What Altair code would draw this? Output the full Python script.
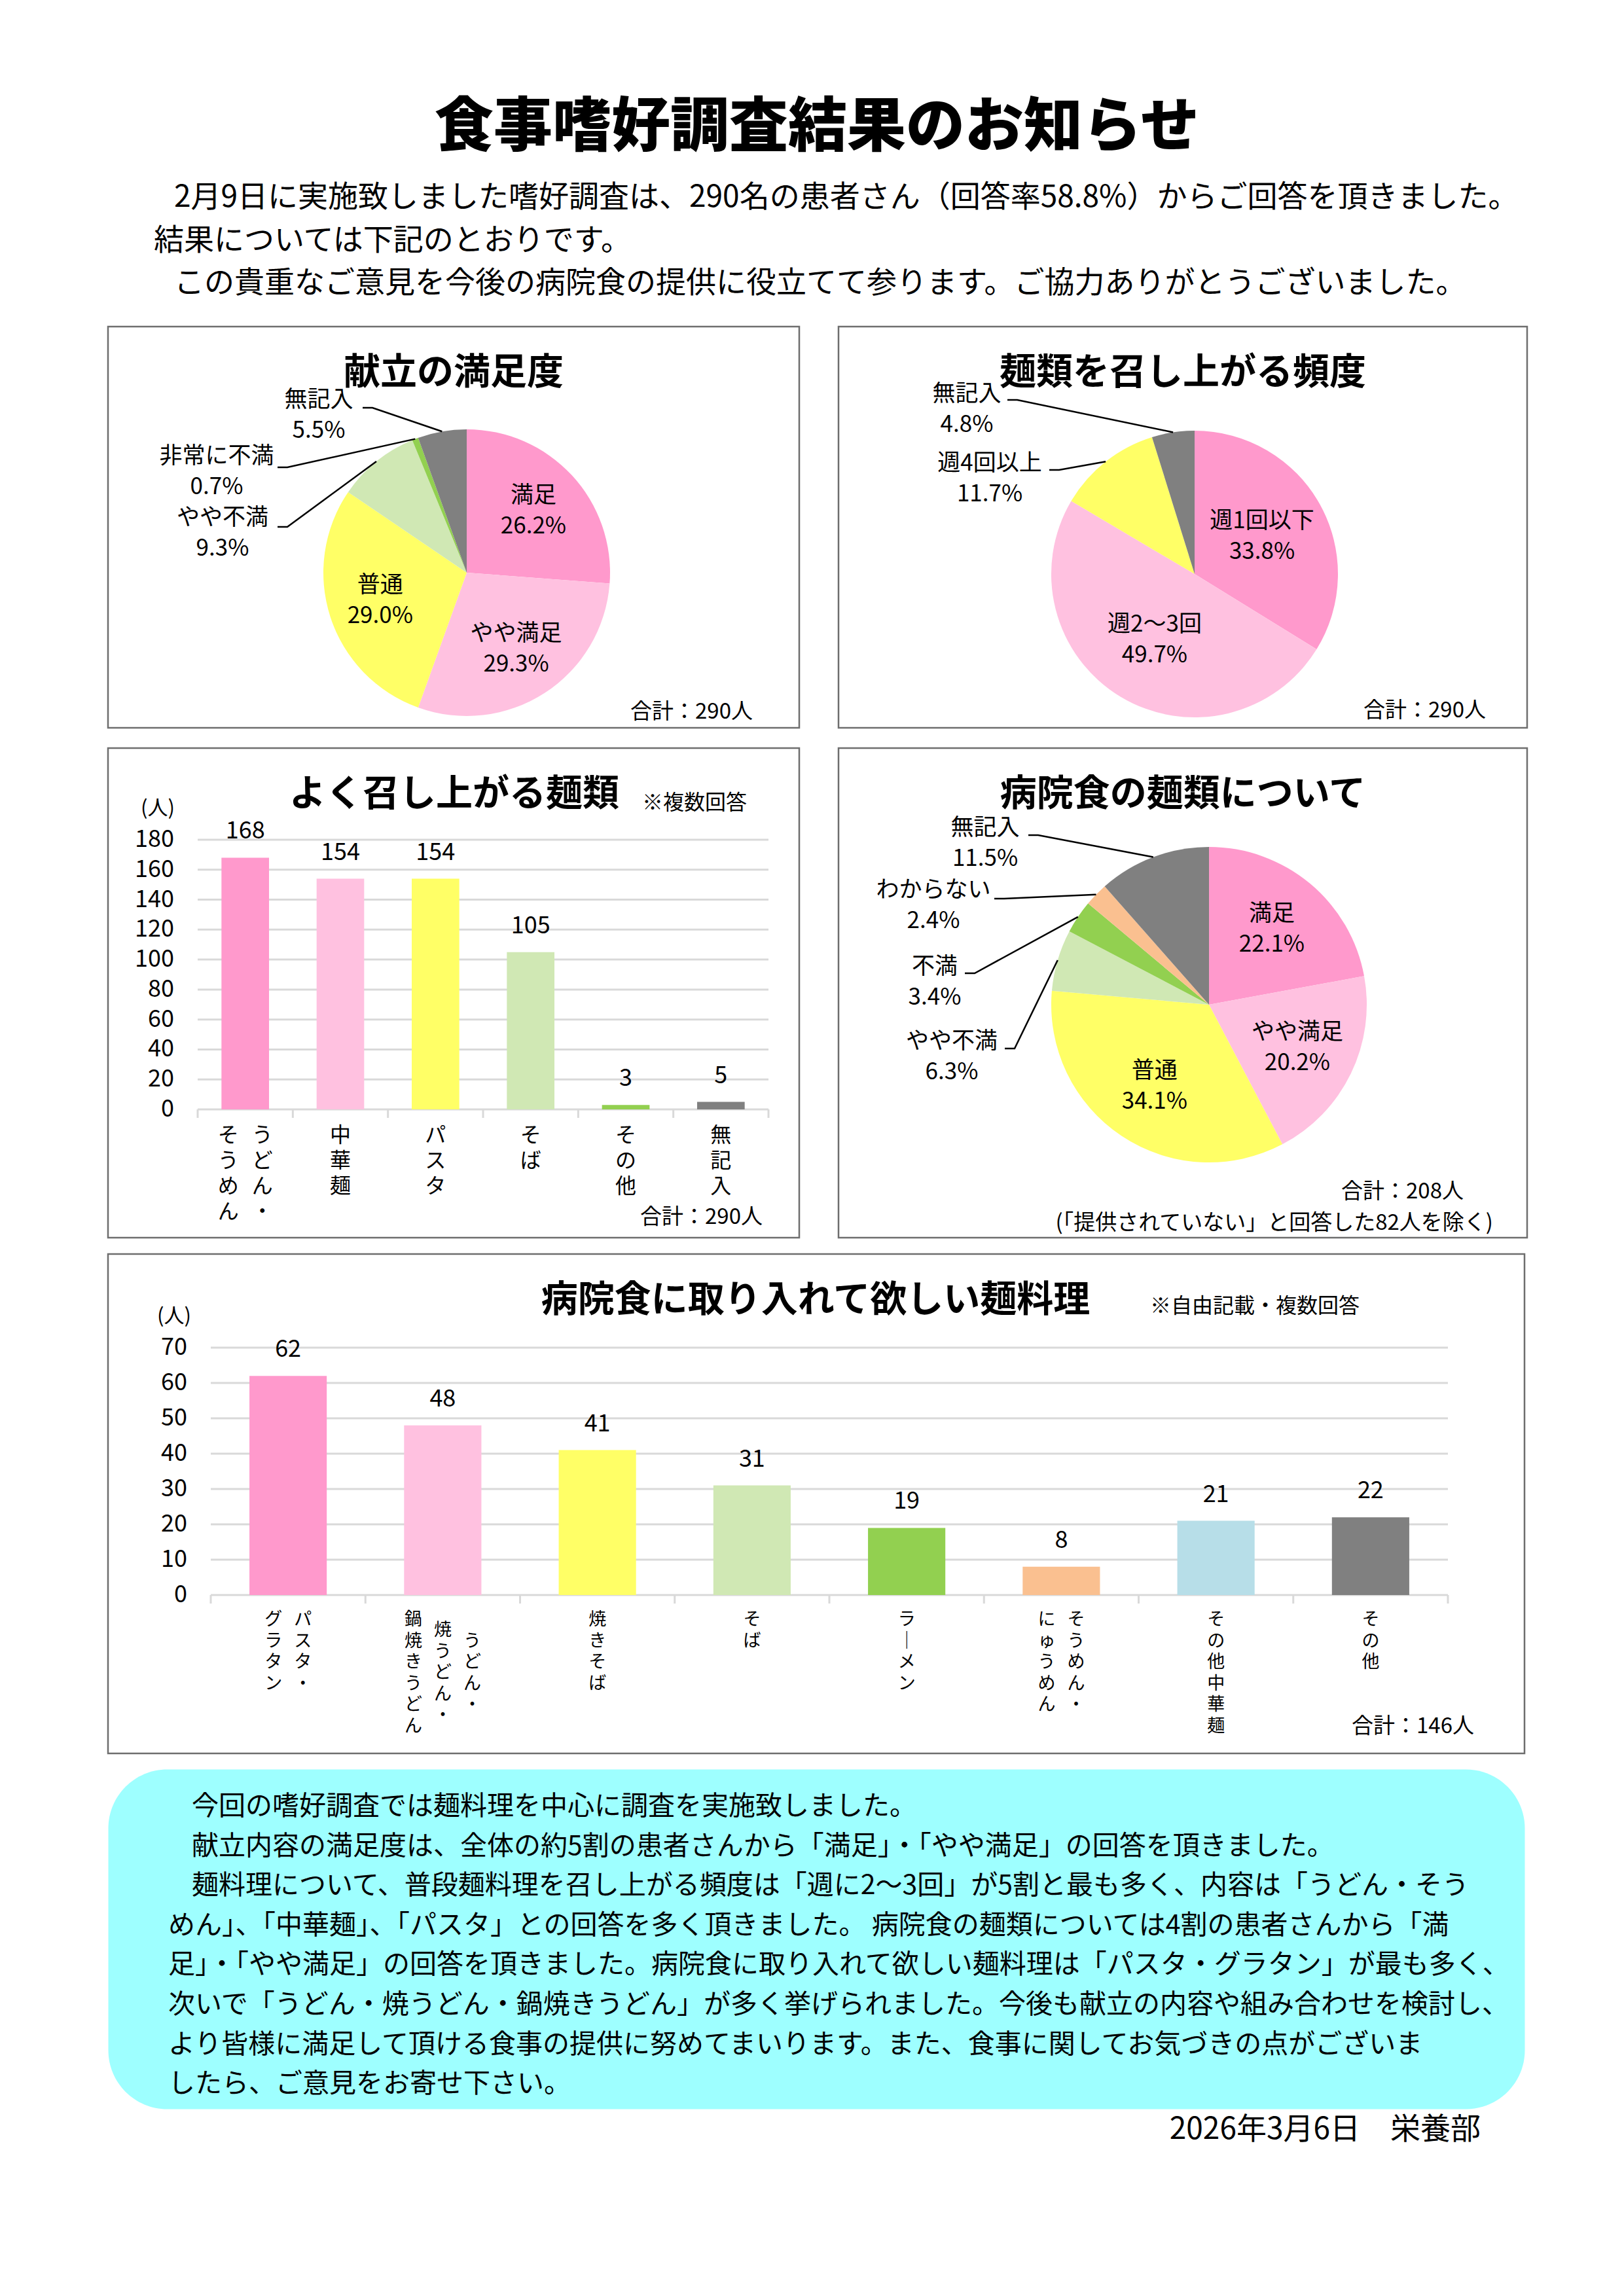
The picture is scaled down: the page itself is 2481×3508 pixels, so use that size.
import math
import altair as alt
import pandas as pd

FONT = "Noto Sans CJK JP"
BORDER = "#6E6E6E"
GRID = "#D9D9D9"

# ---------------- data ----------------
page_title = "食事嗜好調査結果のお知らせ"
intro_lines = [
    "　2月9日に実施致しました嗜好調査は、290名の患者さん（回答率58.8%）からご回答を頂きました。",
    "結果については下記のとおりです。",
    "　この貴重なご意見を今後の病院食の提供に役立てて参ります。ご協力ありがとうございました。",
]

pie1_title = "献立の満足度"
pie1_cats = ["満足", "やや満足", "普通", "やや不満", "非常に不満", "無記入"]
pie1_vals = [26.2, 29.3, 29.0, 9.3, 0.7, 5.5]
pie1_colors = ["#FF99CC", "#FFC1E0", "#FFFF66", "#D0E8B4", "#92D050", "#808080"]
pie1_note = "合計：290人"

pie2_title = "麺類を召し上がる頻度"
pie2_cats = ["週1回以下", "週2〜3回", "週4回以上", "無記入"]
pie2_vals = [33.8, 49.7, 11.7, 4.8]
pie2_colors = ["#FF99CC", "#FFC1E0", "#FFFF66", "#808080"]
pie2_note = "合計：290人"

bar1_title = "よく召し上がる麺類"
bar1_cats = ["うどん・そうめん", "中華麺", "パスタ", "そば", "その他", "無記入"]
bar1_vals = [168, 154, 154, 105, 3, 5]
bar1_colors = ["#FF99CC", "#FFC1E0", "#FFFF66", "#D0E8B4", "#92D050", "#808080"]
bar1_label_cols = [["うどん・", "そうめん"], ["中華麺"], ["パスタ"], ["そば"], ["その他"], ["無記入"]]
bar1_ticks = [0, 20, 40, 60, 80, 100, 120, 140, 160, 180]
bar1_sub = "※複数回答"
bar1_note = "合計：290人"

pie3_title = "病院食の麺類について"
pie3_cats = ["満足", "やや満足", "普通", "やや不満", "不満", "わからない", "無記入"]
pie3_vals = [22.1, 20.2, 34.1, 6.3, 3.4, 2.4, 11.5]
pie3_colors = ["#FF99CC", "#FFC1E0", "#FFFF66", "#D0E8B4", "#92D050", "#FAC090", "#808080"]
pie3_note = "合計：208人"
pie3_note2 = "(「提供されていない」と回答した82人を除く)"

bar2_title = "病院食に取り入れて欲しい麺料理"
bar2_cats = ["パスタ・グラタン", "うどん・焼うどん・鍋焼きうどん", "焼きそば", "そば",
             "ラーメン", "そうめん・にゅうめん", "その他中華麺", "その他"]
bar2_vals = [62, 48, 41, 31, 19, 8, 21, 22]
bar2_colors = ["#FF99CC", "#FFC1E0", "#FFFF66", "#D0E8B4", "#92D050", "#FAC090", "#B7DEE8", "#808080"]
bar2_label_cols = [["パスタ・", "グラタン"], ["うどん・", "焼うどん・", "鍋焼きうどん"], ["焼きそば"],
                   ["そば"], ["ラーメン"], ["そうめん・", "にゅうめん"], ["その他中華麺"], ["その他"]]
bar2_ticks = [0, 10, 20, 30, 40, 50, 60, 70]
bar2_sub = "※自由記載・複数回答"
bar2_note = "合計：146人"

unit_label = "(人)"

box_lines = [
    "　今回の嗜好調査では麺料理を中心に調査を実施致しました。",
    "　献立内容の満足度は、全体の約5割の患者さんから「満足」・「やや満足」の回答を頂きました。",
    "　麺料理について、普段麺料理を召し上がる頻度は「週に2〜3回」が5割と最も多く、内容は「うどん・そう",
    "めん」、「中華麺」、「パスタ」との回答を多く頂きました。 病院食の麺類については4割の患者さんから「満",
    "足」・「やや満足」の回答を頂きました。病院食に取り入れて欲しい麺料理は「パスタ・グラタン」が最も多く、",
    "次いで「うどん・焼うどん・鍋焼きうどん」が多く挙げられました。今後も献立の内容や組み合わせを検討し、",
    "より皆様に満足して頂ける食事の提供に努めてまいります。また、食事に関してお気づきの点がございま",
    "したら、ご意見をお寄せ下さい。",
]
footer_text = "2026年3月6日　栄養部"

# ---------------- helpers ----------------
VMAP = {"ー": "｜"}  # vertical-writing form of the long vowel mark
PIE_FS = 35
PIE_LH = 47
NUM_FS = 36


def note(text, x, y, size, align="center", weight="normal", baseline="middle", lh=None):
    kw = dict(font=FONT, fontSize=size, fontWeight=weight, align=align,
              baseline=baseline, color="black")
    if lh is not None:
        kw.update(lineBreak="\n", lineHeight=lh)
    return alt.Chart(pd.DataFrame({"t": [text]})).mark_text(**kw).encode(
        text="t:N", x=alt.value(x), y=alt.value(y))


def para(lines, x, y, size, lh, indent):
    """Paragraph lines; lines beginning with an ideographic space are indented."""
    out = []
    for i, s in enumerate(lines):
        ind = s.startswith("　")
        out.append(note(s.lstrip("　"), x + (indent if ind else 0), y + i * lh, size, align="left"))
    return out


def pie_panel(title, cats, vals, colors, W, H, cx, cy, r, r_in, inside, outside, notes):
    n = len(cats)
    total = sum(vals)
    df = pd.DataFrame({"cat": cats, "val": vals, "ord": list(range(n))})
    df["inlabel"] = [f"{c}\n{v:.1f}%" if c in inside else "" for c, v in zip(cats, vals)]
    theta = alt.Theta("val:Q", stack=True)
    cscale = alt.Scale(domain=cats, range=colors)
    arcs = alt.Chart(df).mark_arc(radius=r).encode(
        theta=theta,
        color=alt.Color("cat:N", scale=cscale, legend=None),
        order=alt.Order("ord:Q"),
        x=alt.value(cx), y=alt.value(cy))
    inner = alt.Chart(df).mark_text(
        radius=r_in, font=FONT, fontSize=PIE_FS, lineBreak="\n", lineHeight=PIE_LH,
        dy=-PIE_LH / 2, baseline="middle", align="center", color="black").encode(
        theta=theta, order=alt.Order("ord:Q"), detail="cat:N",
        text="inlabel:N", x=alt.value(cx), y=alt.value(cy))

    mids = {}
    cum = 0.0
    for c, v in zip(cats, vals):
        mids[c] = (cum + v / 2) / total * 2 * math.pi
        cum += v
    orows, lrows = [], []
    for c, (lx, ly, sx, sy) in outside.items():
        v = vals[cats.index(c)]
        orows.append({"label": f"{c}\n{v:.1f}%", "x": lx, "y": ly})
        a = mids[c]
        ex, ey = cx + r * math.sin(a), cy - r * math.cos(a)
        for k, (px, py) in enumerate([(sx, sy), (sx + 15, sy), (ex, ey)]):
            lrows.append({"cat": c, "k": k, "x": px, "y": py})
    outer = alt.Chart(pd.DataFrame(orows)).mark_text(
        font=FONT, fontSize=PIE_FS, lineBreak="\n", lineHeight=PIE_LH,
        baseline="middle", align="center", color="black").encode(
        x=alt.X("x:Q", scale=None, axis=None), y=alt.Y("y:Q", scale=None, axis=None),
        text="label:N")
    leaders = alt.Chart(pd.DataFrame(lrows)).mark_line(color="black", strokeWidth=2.5).encode(
        x=alt.X("x:Q", scale=None, axis=None), y=alt.Y("y:Q", scale=None, axis=None),
        detail="cat:N", order="k:Q")
    layers = [arcs, leaders, inner, outer, note(title, W / 2, 71, 56, weight="bold")]
    layers += notes
    return alt.layer(*layers).properties(
        width=W, height=H, view=alt.ViewBackground(stroke=BORDER, strokeWidth=2.5))


def bar_panel(title, title_x, cats, vals, colors, label_cols, ticks, W, H, xr, yr,
              col_sp, lab_top, lab_fs, lab_lh, notes):
    n = len(cats)
    df = pd.DataFrame({"cat": cats, "val": vals})
    xs = alt.Scale(domain=cats, range=list(xr), paddingInner=0.5, paddingOuter=0.25)
    ys = alt.Scale(domain=[ticks[0], ticks[-1]], range=list(yr), nice=False, zero=True)
    tdf = pd.DataFrame({"v": ticks})
    grid = alt.Chart(tdf).mark_rule(color=GRID, strokeWidth=3).encode(
        y=alt.Y("v:Q", scale=ys, axis=None),
        x=alt.value(xr[0]), x2=alt.value(xr[1]))
    ylabels = alt.Chart(tdf).mark_text(font=FONT, fontSize=NUM_FS, align="right",
                                       baseline="middle", color="black").encode(
        y=alt.Y("v:Q", scale=ys, axis=None), x=alt.value(xr[0] - 36), text="v:Q")
    # category boundary ticks below the baseline
    bdf = pd.DataFrame({"b": list(range(n + 1)), "z": [0] * (n + 1)})
    xticks = alt.Chart(bdf).mark_rule(color=GRID, strokeWidth=3).encode(
        x=alt.X("b:Q", scale=alt.Scale(domain=[0, n], range=list(xr)), axis=None),
        y=alt.Y("z:Q", scale=ys, axis=None), y2=alt.value(yr[0] + 13))
    bars = alt.Chart(df).mark_bar().encode(
        x=alt.X("cat:N", scale=xs, axis=None, sort=None),
        y=alt.Y("val:Q", scale=ys, axis=None),
        color=alt.Color("cat:N", scale=alt.Scale(domain=cats, range=colors), legend=None))
    vlab = alt.Chart(df).mark_text(font=FONT, fontSize=NUM_FS, dy=-40, baseline="middle",
                                   color="black").encode(
        x=alt.X("cat:N", scale=xs, axis=None, sort=None),
        y=alt.Y("val:Q", scale=ys, axis=None),
        text="val:Q")
    rows = []
    for c, cols in zip(cats, label_cols):
        nc = len(cols)
        m = max(len(s) for s in cols)
        for i, s in enumerate(cols):
            rows.append({"cat": c,
                         "txt": "\n".join(VMAP.get(ch, ch) for ch in s),
                         "dx": ((nc - 1) / 2 - i) * col_sp,
                         "ty": lab_top + (m - len(s)) / 2 * lab_lh})
    ldf = pd.DataFrame(rows)
    lab_layers = []
    for dxv in sorted(set(ldf["dx"])):
        sub = ldf[ldf["dx"] == dxv]
        lab_layers.append(alt.Chart(sub).mark_text(
            font=FONT, fontSize=lab_fs, lineBreak="\n", lineHeight=lab_lh, baseline="top",
            align="center", dx=float(dxv), color="black").encode(
            x=alt.X("cat:N", scale=xs, axis=None, sort=None),
            y=alt.Y("ty:Q", scale=None, axis=None),
            text="txt:N"))
    layers = [grid, xticks, ylabels, bars, vlab] + lab_layers
    layers += [note(title, title_x, 71, 56, weight="bold")] + notes
    return alt.layer(*layers).resolve_scale(x="independent").properties(
        width=W, height=H, view=alt.ViewBackground(stroke=BORDER, strokeWidth=2.5))


# ---------------- panels ----------------
pieA = pie_panel(
    pie1_title, pie1_cats, pie1_vals, pie1_colors, 1056, 613, 548, 376, 219, 139,
    inside=["満足", "やや満足", "普通"],
    outside={"無記入": (322, 112, 389, 124),
             "非常に不満": (166, 198, 259, 215),
             "やや不満": (175, 292, 259, 306)},
    notes=[note(pie1_note, 985, 589, 33, align="right")])

pieB = pie_panel(
    pie2_title, pie2_cats, pie2_vals, pie2_colors, 1052, 613, 544, 378, 219, 118,
    inside=["週1回以下", "週2〜3回"],
    outside={"無記入": (196, 103, 258, 112),
             "週4回以上": (231, 209, 322, 219)},
    notes=[note(pie2_note, 989, 587, 33, align="right")])

barC = bar_panel(
    bar1_title, 529, bar1_cats, bar1_vals, bar1_colors, bar1_label_cols, bar1_ticks,
    1056, 748, (137, 1009), (552, 140), 52, 577, 32, 39,
    notes=[note(bar1_sub, 896, 84, 32),
           note(unit_label, 76, 93, 31),
           note(bar1_note, 1000, 717, 33, align="right")])

pieD = pie_panel(
    pie3_title, pie3_cats, pie3_vals, pie3_colors, 1052, 748, 566, 392, 241, 150,
    inside=["満足", "やや満足", "普通"],
    outside={"無記入": (224, 122, 290, 133),
             "わからない": (145, 217, 238, 230),
             "不満": (147, 334, 193, 344),
             "やや不満": (173, 448, 254, 459)},
    notes=[note(pie3_note, 955, 678, 33, align="right"),
           note(pie3_note2, 1000, 726, 33, align="right")])

barE = bar_panel(
    bar2_title, 1081, bar2_cats, bar2_vals, bar2_colors, bar2_label_cols, bar2_ticks,
    2164, 763, (157, 2047), (521, 143), 45, 546, 27, 32.5,
    notes=[note(bar2_sub, 1752, 80, 32),
           note(unit_label, 101, 96, 31),
           note(bar2_note, 2087, 722, 33, align="right")])

header = alt.layer(
    note(page_title, 1083, 187, 90, weight=900),
    *para(intro_lines, 70, 293, 46, 65.5, 31),
).properties(width=2164, height=467, view=alt.ViewBackground(stroke="transparent"))

box = alt.layer(
    *para(box_lines, 92, 58, 41, 60.6, 36),
    note(footer_text, 2097, 551, 46, align="right"),
).properties(
    width=2164, height=519,
    view=alt.ViewBackground(fill="#9EFFFF", cornerRadius=90, stroke="transparent"))

rowA = alt.hconcat(pieA, pieB, spacing=56).resolve_scale(color="independent")
rowB = alt.hconcat(barC, pieD, spacing=56).resolve_scale(color="independent")
g1 = alt.vconcat(header, rowA, spacing=20).resolve_scale(color="independent")
g2 = alt.vconcat(rowB, barE, box, spacing=21).resolve_scale(color="independent")

chart = alt.vconcat(g1, g2, spacing=27).resolve_scale(color="independent").properties(
    padding={"left": 155, "top": 0, "right": 8, "bottom": 8},
    background="white",
).configure(font=FONT, view=alt.ViewConfig(stroke="transparent"))

chart.save("out.html", embed_options={"renderer": "svg", "actions": False})
